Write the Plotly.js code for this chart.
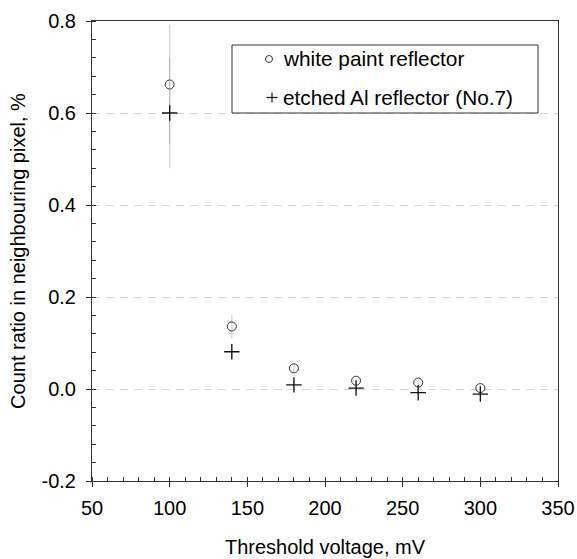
<!DOCTYPE html>
<html>
<head>
<meta charset="utf-8">
<script src="https://cdn.plot.ly/plotly-3.0.1.min.js"></script>
<style>html,body{margin:0;padding:0;background:#fff;}#chart{width:577px;height:559px;}</style>
</head>
<body>
<div id="chart"></div>
<script>
const thresholdMV = [100, 140, 180, 220, 260, 300];
const whitePaint = [0.662, 0.136, 0.045, 0.018, 0.014, 0.002];
const whitePaintErr = [0.13, 0.025, 0.008, 0.006, 0.006, 0.006];
const etchedAl = [0.600, 0.081, 0.009, 0.002, -0.008, -0.011];
const etchedAlErr = [0.12, 0.015, 0.008, 0.006, 0.006, 0.006];
const seriesNames = ['white paint reflector', 'etched Al reflector (No.7)'];
const yTickVals = [-0.2, 0.0, 0.2, 0.4, 0.6, 0.8];
const yTickText = ['-0.2', '0.0', '0.2', '0.4', '0.6', '0.8'];
const xTitle = 'Threshold voltage, mV';
const yTitle = 'Count ratio in neighbouring pixel, %';

const FONT = 'Liberation Sans, Arial, sans-serif';
const W = 577, H = 559, ML = 92, MR = 19, MT = 21, MB = 78;
const PW = W - ML - MR, PH = H - MT - MB;
const px = v => (v - ML) / PW;          // pixel x -> paper x
const py = v => (H - MB - v) / PH;      // pixel y -> paper y

const traces = [
  {
    x: thresholdMV, y: whitePaint, name: seriesNames[0], type: 'scatter', mode: 'markers',
    showlegend: false,
    marker: {symbol: 'circle-open', size: 9, color: '#333', line: {width: 1, color: '#333'}},
    error_y: {type: 'data', array: whitePaintErr, visible: true, thickness: 1.2, width: 0, color: 'rgba(150,150,150,0.45)'}
  },
  {
    x: thresholdMV, y: etchedAl, name: seriesNames[1], type: 'scatter', mode: 'markers',
    showlegend: false,
    marker: {symbol: 'cross-thin-open', size: 11, color: '#111', line: {width: 1.3, color: '#111'}},
    error_y: {type: 'data', array: etchedAlErr, visible: true, thickness: 1.2, width: 0, color: 'rgba(150,150,150,0.45)'}
  }
];

// legend box, symbols and labels (paper coordinates)
const legendShapes = [
  {type: 'rect', xref: 'paper', yref: 'paper', x0: px(232), x1: px(538), y0: py(113), y1: py(45),
   line: {color: '#333', width: 1}, fillcolor: '#fff', layer: 'above'},
  {type: 'circle', xref: 'paper', yref: 'paper', x0: px(265.5), x1: px(272.5), y0: py(62.5), y1: py(55.5),
   line: {color: '#333', width: 1}, layer: 'above'},
  {type: 'line', xref: 'paper', yref: 'paper', x0: px(266.5), x1: px(277.5), y0: py(97.5), y1: py(97.5),
   line: {color: '#111', width: 1.2}, layer: 'above'},
  {type: 'line', xref: 'paper', yref: 'paper', x0: px(272), x1: px(272), y0: py(92.5), y1: py(102.5),
   line: {color: '#111', width: 1.2}, layer: 'above'}
];
const legendLabels = [
  {text: seriesNames[0], xref: 'paper', yref: 'paper', x: px(281), y: py(59), xanchor: 'left', yanchor: 'middle',
   showarrow: false, font: {family: FONT, size: 20.8, color: '#000'}},
  {text: seriesNames[1], xref: 'paper', yref: 'paper', x: px(281), y: py(97), xanchor: 'left', yanchor: 'middle',
   showarrow: false, font: {family: FONT, size: 20.8, color: '#000'}}
];

const layout = {
  width: W, height: H,
  margin: {l: ML, r: MR, t: MT, b: MB},
  paper_bgcolor: '#fff', plot_bgcolor: '#fff',
  font: {family: FONT, size: 20, color: '#000'},
  showlegend: false,
  shapes: legendShapes,
  annotations: legendLabels,
  xaxis: {
    range: [50, 350], dtick: 50, tick0: 50,
    showline: true, linecolor: '#333', linewidth: 1, mirror: true,
    ticks: 'outside', ticklen: 5, tickcolor: '#333', tickwidth: 1, ticklabelstandoff: 4,
    minor: {ticks: 'inside', ticklen: 4, dtick: 10, tickcolor: '#333', tickwidth: 1},
    showgrid: false, zeroline: false,
    tickfont: {family: FONT, size: 20, color: '#000'},
    title: {text: xTitle, font: {family: FONT, size: 20, color: '#000'}, standoff: 21}
  },
  yaxis: {
    range: [-0.2, 0.8], tickmode: 'array', tickvals: yTickVals, ticktext: yTickText,
    showline: true, linecolor: '#333', linewidth: 1, mirror: true,
    ticks: 'outside', ticklen: 5, tickcolor: '#333', tickwidth: 1, ticklabelstandoff: 6,
    minor: {ticks: 'inside', ticklen: 4, dtick: 0.04, tick0: -0.2, tickcolor: '#333', tickwidth: 1},
    showgrid: true, gridcolor: '#d4d4d4', griddash: '8px,6px', gridwidth: 1,
    zeroline: false,
    tickfont: {family: FONT, size: 20, color: '#000'},
    title: {text: yTitle, font: {family: FONT, size: 20, color: '#000'}, standoff: 10}
  },
  xaxis2: {
    overlaying: 'x', anchor: 'y', range: [50, 350], dtick: 50, tick0: 50,
    ticks: 'inside', ticklen: 5, tickcolor: '#333', showticklabels: false,
    showline: false, showgrid: false, zeroline: false
  },
  yaxis2: {
    overlaying: 'y', anchor: 'x', range: [-0.2, 0.8], dtick: 0.2, tick0: -0.2,
    ticks: 'inside', ticklen: 5, tickcolor: '#333', showticklabels: false,
    showline: false, showgrid: false, zeroline: false
  }
};

Plotly.newPlot('chart', traces, layout, {displayModeBar: false, staticPlot: true});
</script>
</body>
</html>
